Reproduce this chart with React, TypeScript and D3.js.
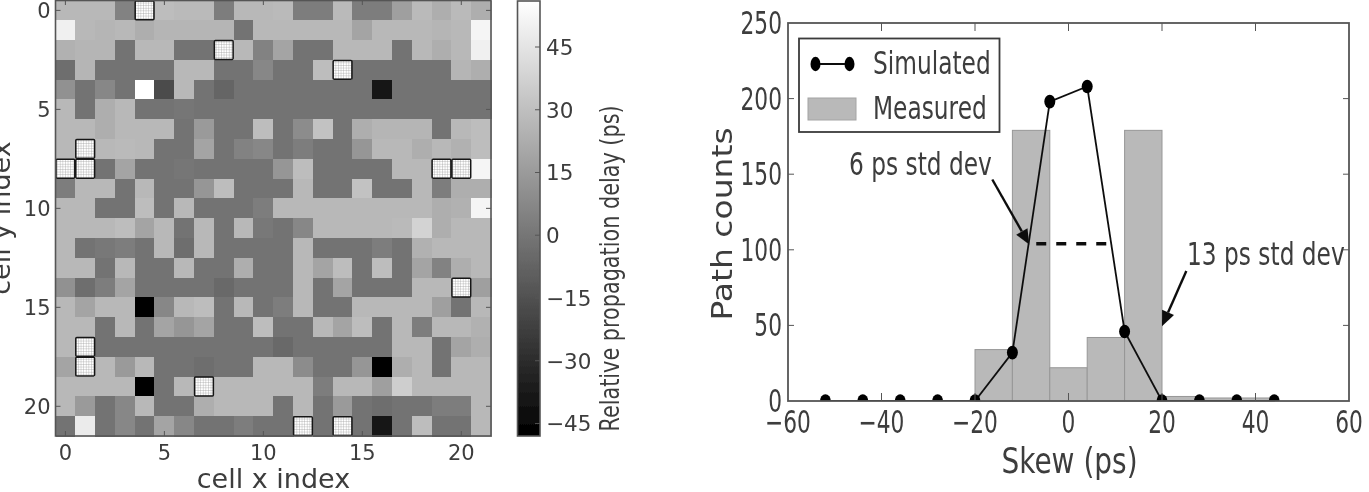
import React, { useEffect, useRef } from "react";
import * as d3 from "d3";

// relative propagation delay (ps) per cell, null = hatched (excluded) cell
const delayRows: (number | null)[][] = [
  [27, 27, 27, 5, null, 29, 28, 28, 3, 27, 27, 28, 3, 3, 28, 3, 3, 17, 28, 23, 28, 23],
  [50, 27, 26, 27, 23, 26, 26, 26, 26, -1, 27, 27, 27, 27, 27, 19, 27, 27, 27, 26, 27, 52],
  [24, 26, 26, -1, 27, 27, -1, -1, null, 27, 5, 19, -1, -1, 27, 27, 27, -1, 27, 23, 27, 50],
  [-3, 26, -1, -1, -1, -1, 27, 27, -1, -1, 7, -1, -1, 29, null, -1, -1, -1, -1, -1, 26, 23],
  [11, -1, 7, -1, 56, -17, 27, -1, -7, -1, -1, -1, -1, -1, -1, -1, -38, -1, -1, -1, -1, -1],
  [27, -1, 23, 27, -1, -1, 0, -1, -1, -1, -1, -1, -1, -1, -1, -1, -1, -1, -1, -1, -1, -1],
  [27, 27, 23, 27, 27, 27, -1, 15, -1, -1, 29, -1, 9, 31, -1, 23, 26, 26, 26, -1, 27, 29],
  [27, null, 27, 28, 27, -1, -1, 19, -1, 5, 7, -1, 3, -1, -1, 13, 27, 27, 23, 27, 24, 29],
  [null, null, -1, 19, -1, -1, 0, -1, -1, -1, -1, 13, 29, -1, -1, -1, -1, 27, 27, null, null, 52],
  [3, 27, 27, -1, 27, -1, -1, 13, 29, -1, -1, -1, 27, -1, -1, 31, -1, -1, 27, 3, 23, 23],
  [27, 27, -1, -1, 29, -1, 27, -1, -1, -1, 3, 27, 27, 27, 27, 27, 27, 27, 27, 23, 24, 52],
  [27, 27, 27, 29, 19, 27, -1, 27, -1, 27, 1, -1, 7, 27, 27, 27, 27, 28, 38, 23, 27, 27],
  [27, -1, 1, 3, -1, 27, -3, 27, -1, -1, -1, -1, 27, -1, -1, -1, 3, -1, 24, 27, 27, 27],
  [27, 27, -1, 27, -1, -1, 27, -1, -1, 23, -1, -1, 27, 19, 29, -1, 29, -1, 19, 5, 23, 27],
  [11, -3, 3, 19, -1, -1, -1, -1, -5, -1, -1, -1, 27, -1, 19, -1, -1, -1, 27, 27, null, 17],
  [27, 19, 27, 27, -48, 7, 27, 29, -1, 27, -1, 3, 27, -1, -1, 27, 27, 27, 27, 17, -1, 27],
  [27, 27, -1, 27, -1, 19, 13, 19, -1, -1, 29, -1, -1, 27, 19, 29, -1, 27, 3, 27, 27, 24],
  [27, null, -1, -1, -1, -1, -1, -1, -1, -1, -1, -5, -1, -1, -1, -1, -1, 27, 27, -1, 19, 23],
  [19, null, 27, 15, 27, -1, -1, -3, -1, -1, 27, 27, 9, -1, -1, 13, -46, 23, 27, -1, 27, 27],
  [27, 27, 27, 27, -48, -1, 27, null, 27, 27, 27, 27, 27, 3, 27, 27, 17, 36, 27, 27, 27, 27],
  [27, 15, -1, 7, 27, -1, -1, 23, 27, 27, 27, -1, 27, -1, 15, -1, -3, -1, -1, 3, 3, 27],
  [-1, 48, -1, 7, -1, 19, 7, -1, -1, 3, -1, -1, null, -1, null, -1, -38, -1, 29, -1, -1, 27],
];
const cellTicks = [0, 5, 10, 15, 20];
const delayTicks = [-45, -30, -15, 0, 15, 30, 45];

const binStarts = [-20, -12, -4, 4, 12, 20, 28, 36];
const measuredCounts = [34, 179, 22, 42, 179, 3, 2, 2];
const binWidth = 8;
const simSkew = [-52, -44, -36, -28, -20, -12, -4, 4, 12, 20, 28, 36, 44];
const simCounts = [0, 0, 0, 0, 0, 32, 198, 208, 46, 0, 0, 0, 0];
const skewTicks = [-60, -40, -20, 0, 20, 40, 60];
const countTicks = [0, 50, 100, 150, 200, 250];

const FONT = "'DejaVu Sans', sans-serif";
const INK = "#3c3c3c";
const SPINE = "#555";
// the right panel is horizontally squeezed in the source figure
const SQUEEZE = 0.69;
const NOTE_SQUEEZE = 0.74;

const App = () => {
  const svgRef = useRef<SVGSVGElement>(null);

  useEffect(() => {
    const svg = d3.select(svgRef.current);
    svg.selectAll("*").remove();

    const defs = svg.append("defs");
    defs.append("filter").attr("id", "soft")
      .attr("x", "-5%").attr("y", "-5%").attr("width", "110%").attr("height", "110%")
      .append("feGaussianBlur").attr("stdDeviation", 0.6);

    const hatch = defs.append("pattern").attr("id", "hatch")
      .attr("width", 2.6).attr("height", 2.6).attr("patternUnits", "userSpaceOnUse");
    hatch.append("rect").attr("width", 2.6).attr("height", 2.6).attr("fill", "#fff");
    hatch.append("path").attr("d", "M0 0H2.6M0 0V2.6").attr("stroke", "#8a8a8a").attr("stroke-width", 0.6);

    const color = d3.scaleLinear<string>().domain([-48, 56]).range(["#000", "#fff"]);

    const grad = defs.append("linearGradient").attr("id", "cbar")
      .attr("x1", 0).attr("x2", 0).attr("y1", 1).attr("y2", 0);
    grad.append("stop").attr("offset", 0).attr("stop-color", color(-48));
    grad.append("stop").attr("offset", 1).attr("stop-color", color(56));

    const root = svg.append("g").attr("filter", "url(#soft)");

    // ---- heatmap ----
    const x = d3.scaleLinear().domain([-0.5, 21.5]).range([55.5, 491]);
    const y = d3.scaleLinear().domain([-0.5, 21.5]).range([0.5, 436]);
    const cellW = x(1) - x(0);
    const cellH = y(1) - y(0);
    const left = root.append("g");

    const cells = delayRows.flatMap((row, r) => row.map((v, c) => ({ r, c, v })));
    left.selectAll(".cell")
      .data(cells.filter(d => d.v !== null))
      .enter().append("rect")
      .attr("x", d => x(d.c - 0.5))
      .attr("y", d => y(d.r - 0.5))
      .attr("width", cellW + 0.5)
      .attr("height", cellH + 0.5)
      .attr("shape-rendering", "crispEdges")
      .attr("fill", d => color(d.v as number));

    left.selectAll(".masked")
      .data(cells.filter(d => d.v === null))
      .enter().append("rect")
      .attr("x", d => x(d.c - 0.5) + 0.5)
      .attr("y", d => y(d.r - 0.5) + 0.5)
      .attr("width", cellW - 1)
      .attr("height", cellH - 1)
      .attr("rx", 1)
      .attr("fill", "url(#hatch)")
      .attr("stroke", "#141414")
      .attr("stroke-width", 1.5);

    left.append("rect")
      .attr("x", x.range()[0]).attr("y", y.range()[0])
      .attr("width", x.range()[1] - x.range()[0])
      .attr("height", y.range()[1] - y.range()[0])
      .attr("fill", "none").attr("stroke", SPINE).attr("stroke-width", 1.6);

    cellTicks.forEach(t => {
      left.append("path")
        .attr("d", `M${x(t)} 436v-5M${x(t)} 0v5M55.5 ${y(t)}h5M491 ${y(t)}h-5`)
        .attr("stroke", SPINE).attr("stroke-width", 1);
      left.append("text").attr("x", x(t)).attr("y", 460)
        .attr("text-anchor", "middle").attr("font-size", 21).attr("font-family", FONT).attr("fill", INK)
        .text(t);
      left.append("text").attr("x", 50.5).attr("y", y(t) + 8)
        .attr("text-anchor", "end").attr("font-size", 21).attr("font-family", FONT).attr("fill", INK)
        .text(t);
    });

    left.append("text").attr("x", 273.5).attr("y", 488)
      .attr("text-anchor", "middle").attr("font-size", 27).attr("font-family", FONT).attr("fill", INK)
      .text("cell x index");
    left.append("text").attr("transform", "translate(10,218) rotate(-90)")
      .attr("text-anchor", "middle").attr("font-size", 27).attr("font-family", FONT).attr("fill", INK)
      .text("cell y index");

    // ---- colorbar ----
    const cy = d3.scaleLinear().domain([-48, 56]).range([436, 1]);
    const bar = root.append("g");
    bar.append("rect")
      .attr("x", 517.5).attr("y", 1).attr("width", 22.5).attr("height", 435)
      .attr("fill", "url(#cbar)").attr("stroke", SPINE).attr("stroke-width", 1.6);
    delayTicks.forEach(t => {
      bar.append("path").attr("d", `M540 ${cy(t)}h-5`).attr("stroke", SPINE).attr("stroke-width", 1);
      bar.append("text").attr("x", 546).attr("y", cy(t) + 8)
        .attr("font-size", 21.5).attr("font-family", FONT).attr("fill", INK)
        .text(d3.format("")(t));
    });
    bar.append("text").attr("transform", "translate(619,268.5) rotate(-90) scale(0.77,1)")
      .attr("text-anchor", "middle").attr("font-size", 27).attr("font-family", FONT).attr("fill", INK)
      .text("Relative propagation delay (ps)");

    // ---- histogram ----
    const sx = d3.scaleLinear().domain([-60, 60]).range([788, 1349]);
    const sy = d3.scaleLinear().domain([0, 250]).range([401, 23]);
    const right = root.append("g");

    const squeezed = (px: number, py: number, label: string, size: number, anchor = "start", k = SQUEEZE) =>
      right.append("text")
        .attr("transform", `translate(${px},${py}) scale(${k},1)`)
        .attr("text-anchor", anchor).attr("font-size", size).attr("font-family", FONT).attr("fill", INK)
        .text(label);

    right.selectAll(".bar")
      .data(binStarts.map((b, i) => ({ b, n: measuredCounts[i] })))
      .enter().append("rect")
      .attr("x", d => sx(d.b))
      .attr("y", d => sy(d.n))
      .attr("width", sx(binWidth) - sx(0))
      .attr("height", d => sy(0) - sy(d.n))
      .attr("fill", "#b9b9b9")
      .attr("stroke", "#979797")
      .attr("stroke-width", 1);

    // markers and line stay inside the axes, like matplotlib's clip
    defs.append("clipPath").attr("id", "plotclip").append("rect")
      .attr("x", 788).attr("y", 23).attr("width", 561).attr("height", 378);
    const plot = right.append("g").attr("clip-path", "url(#plotclip)");
    const line = d3.line<number>().x((_, i) => sx(simSkew[i])).y(d => sy(d));
    plot.append("path").datum(simCounts)
      .attr("d", line).attr("fill", "none").attr("stroke", "#111").attr("stroke-width", 1.8);
    plot.selectAll(".dot").data(simCounts).enter().append("ellipse")
      .attr("cx", (_, i) => sx(simSkew[i]))
      .attr("cy", d => sy(d))
      .attr("rx", 5.5).attr("ry", 6.8).attr("fill", "#000");

    // dashed width marker
    plot.append("path")
      .attr("d", `M${sx(-6.9)} ${sy(104)}H${sx(8.5)}`)
      .attr("stroke", "#111").attr("stroke-width", 3.4).attr("stroke-dasharray", "10 10");

    right.append("rect")
      .attr("x", 788).attr("y", 23).attr("width", 561).attr("height", 378)
      .attr("fill", "none").attr("stroke", SPINE).attr("stroke-width", 1.8);

    skewTicks.forEach(t => {
      if (t !== -60 && t !== 60) {
        right.append("path").attr("d", `M${sx(t)} 401v-8M${sx(t)} 23v8`).attr("stroke", SPINE).attr("stroke-width", 1);
      }
      squeezed(sx(t), 433, d3.format("")(t), 31.5, "middle");
    });
    countTicks.forEach(t => {
      if (t !== 0 && t !== 250) {
        right.append("path").attr("d", `M788 ${sy(t)}h6M1349 ${sy(t)}h-6`).attr("stroke", SPINE).attr("stroke-width", 1);
      }
      squeezed(782, sy(t) + 11, String(t), 31.5, "end");
    });

    squeezed(1069.5, 473, "Skew (ps)", 35, "middle", 0.8);
    right.append("text")
      .attr("transform", "translate(731.5,224) rotate(-90) scale(1,0.85)")
      .attr("text-anchor", "middle").attr("font-size", 33).attr("font-family", FONT).attr("fill", INK)
      .text("Path counts");

    // legend
    right.append("rect").attr("x", 799).attr("y", 38.5).attr("width", 200.5).attr("height", 93.5)
      .attr("fill", "#fff").attr("stroke", "#3a3a3a").attr("stroke-width", 1.8);
    right.append("path").attr("d", "M815.5 64H849.5").attr("stroke", "#111").attr("stroke-width", 1.8);
    [815.5, 849.5].forEach(cx => {
      right.append("ellipse").attr("cx", cx).attr("cy", 64).attr("rx", 5).attr("ry", 7.2).attr("fill", "#000");
    });
    right.append("rect").attr("x", 808).attr("y", 98).attr("width", 48).attr("height", 22)
      .attr("fill", "#b9b9b9").attr("stroke", "#a4a4a4").attr("stroke-width", 1);
    squeezed(873, 74, "Simulated", 31.5, "start", NOTE_SQUEEZE);
    squeezed(873, 119, "Measured", 31.5, "start", NOTE_SQUEEZE);

    // annotations
    const arrow = (x0: number, y0: number, x1: number, y1: number) => {
      const a = Math.atan2(y1 - y0, x1 - x0);
      const hl = 15;
      const hw = 6.5;
      const bx = x1 - hl * Math.cos(a);
      const by = y1 - hl * Math.sin(a);
      right.append("path").attr("d", `M${x0} ${y0}L${bx} ${by}`).attr("stroke", "#111").attr("stroke-width", 2.4);
      right.append("path")
        .attr("d", `M${x1} ${y1}L${bx - hw * Math.sin(a)} ${by + hw * Math.cos(a)}L${bx + hw * Math.sin(a)} ${by - hw * Math.cos(a)}Z`)
        .attr("fill", "#111");
    };
    squeezed(849, 175, "6 ps std dev", 31.5, "start", NOTE_SQUEEZE);
    arrow(sx(-16.3), sy(146.5), sx(-8.4), sy(103.5));
    squeezed(1187, 265, "13 ps std dev", 31.5, "start", NOTE_SQUEEZE);
    arrow(sx(25.2), sy(86), sx(20), sy(49.5));
  }, []);

  return (
    <svg
      ref={svgRef}
      width={1369}
      height={492}
      style={{ position: "absolute", left: 0, top: 0, background: "#fff" }}
    />
  );
};

export default App;
